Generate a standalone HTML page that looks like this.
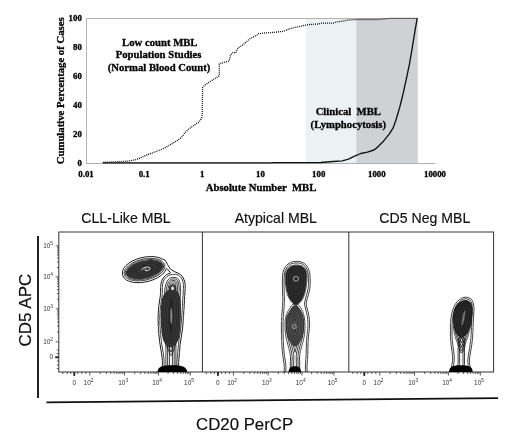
<!DOCTYPE html>
<html><head><meta charset="utf-8"><style>
html,body{margin:0;padding:0;background:#fff;}
svg{display:block;}
</style></head><body>
<svg width="520" height="442" viewBox="0 0 520 442">
<rect width="520" height="442" fill="#fff"/>
<rect x="305.8" y="18.5" width="50.5" height="144.8" fill="#ecf2f4"/>
<rect x="356.3" y="18.5" width="61.5" height="144.8" fill="#cfd2d4"/>
<path d="M86.5 163.5 V18.5 H417.8" fill="none" stroke="#b2b2b2" stroke-width="1"/>
<path d="M86 163.5 H435.5" fill="none" stroke="#b0b0b0" stroke-width="1"/>
<text x="81.8" y="165.5" text-anchor="end" font-family="'Liberation Serif', 'Times New Roman', serif" font-weight="bold" stroke="#000" stroke-width="0.3" font-size="8.8">0</text>
<text x="81.8" y="136.5" text-anchor="end" font-family="'Liberation Serif', 'Times New Roman', serif" font-weight="bold" stroke="#000" stroke-width="0.3" font-size="8.8">20</text>
<text x="81.8" y="107.6" text-anchor="end" font-family="'Liberation Serif', 'Times New Roman', serif" font-weight="bold" stroke="#000" stroke-width="0.3" font-size="8.8">40</text>
<text x="81.8" y="78.6" text-anchor="end" font-family="'Liberation Serif', 'Times New Roman', serif" font-weight="bold" stroke="#000" stroke-width="0.3" font-size="8.8">60</text>
<text x="81.8" y="49.7" text-anchor="end" font-family="'Liberation Serif', 'Times New Roman', serif" font-weight="bold" stroke="#000" stroke-width="0.3" font-size="8.8">80</text>
<text x="81.8" y="20.7" text-anchor="end" font-family="'Liberation Serif', 'Times New Roman', serif" font-weight="bold" stroke="#000" stroke-width="0.3" font-size="8.8">100</text>
<text x="86.0" y="177.3" text-anchor="middle" font-family="'Liberation Serif', 'Times New Roman', serif" font-weight="bold" stroke="#000" stroke-width="0.3" font-size="8.8">0.01</text>
<text x="144.2" y="177.3" text-anchor="middle" font-family="'Liberation Serif', 'Times New Roman', serif" font-weight="bold" stroke="#000" stroke-width="0.3" font-size="8.8">0.1</text>
<text x="202.3" y="177.3" text-anchor="middle" font-family="'Liberation Serif', 'Times New Roman', serif" font-weight="bold" stroke="#000" stroke-width="0.3" font-size="8.8">1</text>
<text x="260.5" y="177.3" text-anchor="middle" font-family="'Liberation Serif', 'Times New Roman', serif" font-weight="bold" stroke="#000" stroke-width="0.3" font-size="8.8">10</text>
<text x="318.7" y="177.3" text-anchor="middle" font-family="'Liberation Serif', 'Times New Roman', serif" font-weight="bold" stroke="#000" stroke-width="0.3" font-size="8.8">100</text>
<text x="376.8" y="177.3" text-anchor="middle" font-family="'Liberation Serif', 'Times New Roman', serif" font-weight="bold" stroke="#000" stroke-width="0.3" font-size="8.8">1000</text>
<text x="435.0" y="177.3" text-anchor="middle" font-family="'Liberation Serif', 'Times New Roman', serif" font-weight="bold" stroke="#000" stroke-width="0.3" font-size="8.8">10000</text>
<text x="261" y="191" text-anchor="middle" font-family="'Liberation Serif', 'Times New Roman', serif" font-weight="bold" stroke="#000" stroke-width="0.3" font-size="10.7" xml:space="preserve">Absolute Number  MBL</text>
<text transform="translate(64.3 90.8) rotate(-90)" text-anchor="middle" font-family="'Liberation Serif', 'Times New Roman', serif" font-weight="bold" stroke="#000" stroke-width="0.3" font-size="10.7">Cumulative Percentage of Cases</text>
<text x="159.8" y="45.6" text-anchor="middle" font-family="'Liberation Serif', 'Times New Roman', serif" font-weight="bold" stroke="#000" stroke-width="0.3" font-size="10.7">Low count MBL</text>
<text x="158.6" y="58.4" text-anchor="middle" font-family="'Liberation Serif', 'Times New Roman', serif" font-weight="bold" stroke="#000" stroke-width="0.3" font-size="10.7">Population Studies</text>
<text x="159" y="71.1" text-anchor="middle" font-family="'Liberation Serif', 'Times New Roman', serif" font-weight="bold" stroke="#000" stroke-width="0.3" font-size="10.7">(Normal Blood Count)</text>
<text x="348.3" y="115.2" text-anchor="middle" font-family="'Liberation Serif', 'Times New Roman', serif" font-weight="bold" stroke="#000" stroke-width="0.3" font-size="10.7" xml:space="preserve">Clinical  MBL</text>
<text x="348.3" y="127.7" text-anchor="middle" font-family="'Liberation Serif', 'Times New Roman', serif" font-weight="bold" stroke="#000" stroke-width="0.3" font-size="10.7">(Lymphocytosis)</text>
<polyline points="102.7,162.9 270.0,162.9 274.0,162.6 320.8,162.5 333.1,161.5 342.3,160.8 348.5,159.2 354.6,156.2 360.8,153.5 367.4,152.2 374.0,150.0 377.6,147.1 383.5,141.2 389.4,133.8 393.1,127.9 395.3,122.1 397.5,114.7 399.7,107.4 401.3,101.0 403.4,92.4 406.5,78.1 409.5,63.9 411.6,51.7 413.6,39.4 415.6,27.2 417.3,18.1" fill="none" stroke="#111" stroke-width="1.35" stroke-linejoin="round"/>
<polyline points="103.3,162.3 112.0,162.0 120.6,161.6 127.5,161.2 132.0,160.4 136.8,159.5 141.0,157.6 146.0,155.4 150.5,153.6 155.2,151.9 160.0,150.0 164.5,148.0 169.0,145.5 173.7,142.7 177.5,140.4 180.6,138.1 183.0,135.5 185.2,132.3 188.5,129.3 192.2,126.5 196.0,124.0 199.1,121.9 201.4,118.5 202.3,114.5 202.3,107.5 202.6,87.7 204.5,85.3 211.7,80.6 218.0,76.6 219.3,75.8 219.3,64.0 222.0,62.8 229.1,61.1 230.6,54.8 233.0,52.3 235.5,53.0 238.0,48.0 243.6,44.3 249.9,38.7 253.6,36.8 257.3,34.9 258.6,33.7 264.8,33.0 273.5,32.4 283.8,31.2 290.0,28.6 300.8,26.2 308.5,24.6 317.7,24.0 322.3,23.1 333.1,23.1 336.2,22.0 343.8,20.9 348.7,20.0 357.3,19.5 378.0,19.5 390.2,18.3 417.0,18.3" fill="none" stroke="#111" stroke-width="1.3" stroke-dasharray="1 1"/>
<rect x="58.8" y="232.0" width="434.8" height="140.0" fill="none" stroke="#333" stroke-width="1"/>
<line x1="202.4" y1="232.0" x2="202.4" y2="372.0" stroke="#333" stroke-width="1"/>
<line x1="348.8" y1="232.0" x2="348.8" y2="372.0" stroke="#333" stroke-width="1"/>
<text x="126.0" y="223.1" text-anchor="middle" font-family="'Liberation Sans', Arial, sans-serif" font-size="14.1" fill="#111" stroke="#111" stroke-width="0.15">CLL-Like MBL</text>
<text x="275.8" y="223.1" text-anchor="middle" font-family="'Liberation Sans', Arial, sans-serif" font-size="14.1" fill="#111" stroke="#111" stroke-width="0.15">Atypical MBL</text>
<text x="424.8" y="223.1" text-anchor="middle" font-family="'Liberation Sans', Arial, sans-serif" font-size="14.1" fill="#111" stroke="#111" stroke-width="0.15">CD5 Neg MBL</text>
<line x1="38" y1="236" x2="38" y2="398" stroke="#222" stroke-width="2"/>
<line x1="46.5" y1="402.4" x2="498" y2="398.2" stroke="#111" stroke-width="1.8"/>
<text transform="translate(31.2 310.1) rotate(-90)" text-anchor="middle" font-family="'Liberation Sans', Arial, sans-serif" font-size="17" fill="#111" stroke="#111" stroke-width="0.2">CD5 APC</text>
<text x="244.6" y="430" text-anchor="middle" font-family="'Liberation Sans', Arial, sans-serif" font-size="16.8" fill="#111" stroke="#111" stroke-width="0.2">CD20 PerCP</text>
<clipPath id="pc"><rect x="58.8" y="232.0" width="434.8" height="140.0"/></clipPath>
<g clip-path="url(#pc)">
<path d="M179.3 379.8 179.8 377.8 179.8 373.0 178.8 367.0 178.6 362.6 178.8 361.6 178.8 359.6 179.4 354.0 179.4 352.4 179.6 351.4 180.0 345.4 182.4 329.6 183.0 323.4 183.2 319.0 183.4 318.2 183.4 316.4 183.6 315.4 183.8 310.6 184.0 309.8 184.0 307.8 184.2 306.8 184.2 304.2 184.4 303.2 184.4 300.2 184.6 299.2 184.6 296.4 184.8 295.4 184.8 293.0 185.0 292.2 185.0 289.8 185.2 288.6 185.2 285.2 185.0 283.2 184.5 281.0 183.2 277.8 182.1 276.2 180.4 274.5 178.6 273.4 174.2 271.5 170.8 269.4 170.2 268.8 167.6 264.6 166.1 261.8 164.8 259.9 162.6 259.2 159.2 257.7 155.2 256.8 153.2 256.6 150.6 256.6 146.2 256.8 140.0 258.1 136.0 259.4 132.0 261.2 128.6 263.3 125.8 265.6 123.8 268.2 123.0 269.8 122.5 271.4 122.4 274.4 122.9 275.8 124.2 278.0 126.4 279.9 128.4 280.9 131.2 281.9 133.8 282.4 136.0 282.6 140.4 282.6 144.2 282.2 149.2 281.1 153.0 279.8 157.0 278.0 160.4 275.9 162.8 274.0 164.7 271.8 166.2 268.9 166.6 268.5 167.0 268.6 167.6 269.2 168.4 270.6 169.0 271.2 170.4 272.2 170.5 272.6 170.2 273.0 168.0 273.9 166.6 274.7 165.6 275.5 163.8 277.2 162.6 279.0 161.5 281.4 160.8 284.8 160.8 286.4 160.6 287.4 160.6 292.8 160.4 293.8 160.4 295.2 158.8 306.2 158.4 310.2 158.4 312.0 158.2 312.8 158.2 317.0 158.0 318.0 158.0 319.8 158.2 321.0 158.2 325.6 158.4 326.6 158.4 328.8 158.6 329.6 158.8 333.8 159.6 341.6 161.6 353.8 162.4 360.4 162.4 366.8 161.6 373.0 161.6 376.8 161.9 378.2 162.4 379.8" fill="none" stroke="#000" stroke-width="0.9"/>
<path d="M140.2 280.8 140.8 280.6 142.4 280.6 143.0 280.4 144.0 280.4 147.0 279.8 152.4 278.1 156.0 276.5 160.2 273.8 161.0 273.0 161.4 272.8 163.2 270.8 164.3 268.8 164.8 267.4 164.8 265.0 164.5 264.2 163.6 262.6 162.4 261.4 161.4 260.7 158.8 259.5 157.2 259.0 155.4 258.8 155.0 258.6 153.6 258.6 153.0 258.4 148.8 258.4 148.2 258.6 146.6 258.6 146.0 258.8 145.0 258.8 142.0 259.4 136.6 261.1 133.0 262.7 128.8 265.4 127.0 267.0 126.8 267.4 125.8 268.4 124.7 270.4 124.2 271.8 124.2 274.2 124.5 275.0 125.4 276.6 126.6 277.8 127.6 278.5 130.2 279.7 131.8 280.2 133.6 280.4 134.0 280.6 135.4 280.6 136.0 280.8 140.2 280.8Z M140.2 279.6 142.2 279.5 142.6 279.3 143.6 279.3 144.0 279.1 146.6 278.7 151.8 277.1 155.4 275.5 158.8 273.4 161.0 271.6 161.2 271.2 162.2 270.2 163.3 268.2 163.7 267.0 163.7 265.4 163.1 264.0 162.6 263.2 160.8 261.7 159.2 260.9 156.8 260.1 155.0 259.9 154.6 259.7 153.2 259.7 152.8 259.5 149.0 259.5 148.6 259.7 146.8 259.7 146.4 259.9 145.4 259.9 145.0 260.1 144.4 260.1 144.0 260.3 143.4 260.3 143.0 260.5 142.4 260.5 140.8 260.9 136.2 262.5 132.0 264.6 130.2 265.8 128.2 267.4 126.4 269.6 125.7 271.0 125.3 272.2 125.3 273.8 125.9 275.2 126.4 276.0 128.2 277.5 130.8 278.7 131.2 278.7 132.2 279.1 134.0 279.3 134.4 279.5 135.8 279.5 136.2 279.7 140.2 279.6Z M139.6 278.4 140.2 278.2 141.8 278.2 142.4 278.0 143.2 278.0 147.8 277.0 152.4 275.4 156.2 273.5 158.9 271.6 161.0 269.5 161.5 268.8 162.4 266.6 162.4 265.8 161.9 264.6 161.4 263.9 160.2 262.9 158.8 262.2 156.4 261.4 152.4 260.8 149.4 260.8 148.8 261.0 147.2 261.0 146.6 261.2 145.8 261.2 141.2 262.2 137.6 263.4 134.8 264.6 132.8 265.7 130.2 267.5 127.9 269.8 127.0 271.4 126.6 272.6 126.6 273.4 126.9 274.2 127.5 275.2 128.8 276.3 131.2 277.4 133.6 278.0 136.0 278.2 136.6 278.4 139.6 278.4Z M139.6 277.0 143.0 276.7 147.6 275.7 151.0 274.6 154.0 273.3 158.1 270.6 159.9 268.8 160.8 267.4 161.1 266.4 160.9 265.4 160.4 264.7 159.4 263.9 157.6 263.1 155.2 262.5 152.0 262.1 149.8 262.1 146.0 262.5 141.0 263.6 138.0 264.6 135.0 265.9 133.5 266.8 130.8 268.7 129.0 270.5 128.2 271.8 127.9 273.0 128.1 273.8 128.7 274.6 130.6 275.8 132.8 276.5 135.0 276.9 137.0 277.1 139.6 277.0Z M139.0 275.8 142.8 275.4 147.2 274.4 150.6 273.3 153.4 272.1 156.4 270.2 158.0 268.9 159.3 267.4 159.8 266.2 159.7 266.0 159.4 265.6 158.6 265.0 157.0 264.3 155.0 263.8 151.8 263.4 147.8 263.6 143.2 264.4 138.4 265.9 135.6 267.1 134.2 267.9 131.0 270.3 129.7 271.8 129.3 272.8 129.3 273.2 129.6 273.6 130.4 274.2 132.0 274.9 135.2 275.6 137.2 275.8 139.0 275.8Z M139.4 274.4 142.6 274.1 145.4 273.5 147.2 273.1 151.0 271.7 152.8 270.9 155.6 269.2 157.2 267.8 158.0 267.0 158.3 266.4 157.4 265.9 155.6 265.3 151.6 264.7 147.8 264.9 143.6 265.7 139.0 267.1 136.2 268.3 132.6 270.6 131.2 272.0 130.7 272.8 132.3 273.6 134.2 274.1 137.4 274.5 139.4 274.4Z M138.6 273.2 142.4 272.8 145.2 272.2 149.6 270.9 153.4 269.1 155.6 267.6 156.2 266.9 155.4 266.6 153.4 266.2 150.4 266.0 146.6 266.4 143.8 267.0 139.4 268.3 136.8 269.4 134.4 270.9 132.8 272.2 132.8 272.4 134.6 272.8 137.4 273.2 138.6 273.2Z M139.1 271.8 142.2 271.5 146.2 270.7 150.2 269.2 153.3 267.6 151.4 267.3 150.4 267.3 146.8 267.7 144.0 268.2 139.0 269.9 135.7 271.6 137.6 271.9 139.1 271.8Z M147.1 269.0 146.9 269.0 147.1 269.0Z M143.1 270.0 146.5 269.2 146.2 269.1 145.8 269.3 144.4 269.5 142.5 270.0 143.1 270.0Z M142.1 270.2 141.9 270.2 142.1 270.2Z" fill="none" stroke="#000" stroke-width="0.75"/>
<path d="M177.4 379.8 178.1 377.8 178.1 373.2 177.1 367.4 177.1 365.8 176.9 365.0 176.9 362.2 177.1 361.4 177.1 359.2 177.3 358.6 177.3 356.8 177.5 356.2 177.5 354.6 177.7 353.8 177.7 352.0 177.9 351.2 177.9 349.6 178.1 348.8 178.3 345.0 178.5 344.6 179.1 339.0 180.7 329.4 180.9 326.0 181.1 325.4 181.1 324.0 181.3 323.2 181.3 321.4 181.5 320.8 181.5 318.8 181.7 318.0 181.7 316.0 181.9 315.2 181.9 313.2 182.1 312.4 182.1 310.4 182.3 309.6 182.3 307.4 182.5 306.6 182.7 299.8 182.9 299.0 182.9 296.0 183.1 295.2 183.3 289.4 183.5 288.6 183.5 285.4 183.3 284.8 183.3 283.4 182.8 281.4 182.0 279.1 180.9 277.4 179.4 275.8 178.6 275.3 176.8 274.6 175.4 274.3 172.6 274.3 171.0 274.6 168.7 275.4 166.6 276.8 165.0 278.4 164.0 279.9 163.2 281.8 162.5 284.8 162.5 286.6 162.3 287.4 162.3 293.2 162.1 293.8 161.9 297.4 160.9 303.4 160.9 304.6 160.3 308.2 160.3 309.8 160.1 310.2 159.7 319.8 159.9 320.6 159.9 325.4 160.1 326.2 160.1 328.6 160.3 329.4 160.3 331.2 160.5 332.0 160.5 333.6 160.7 334.4 160.9 338.0 161.1 338.4 161.1 339.8 161.3 340.2 161.7 344.2 163.3 353.4 163.7 357.4 163.9 357.8 163.9 359.4 164.1 360.0 164.1 363.2 164.3 364.0 164.1 364.6 164.1 367.4 163.9 367.8 163.9 369.2 163.3 373.0 163.3 376.4 163.5 377.8 164.2 379.8" fill="none" stroke="#000" stroke-width="0.75"/>
<path d="M171.2 355.6 171.6 355.2 172.6 353.0 172.9 351.8 176.0 342.8 176.8 339.6 176.8 338.8 177.0 338.4 177.2 336.4 177.4 336.0 177.6 333.0 177.8 332.6 177.8 331.2 178.0 330.8 178.0 329.0 178.2 328.6 178.2 327.0 178.4 326.6 178.6 322.2 178.8 321.8 178.8 319.6 179.0 319.2 179.2 312.8 179.4 312.4 179.4 308.8 179.6 308.4 179.6 305.2 179.8 304.8 179.8 301.8 180.0 301.4 180.2 295.8 180.4 295.4 180.4 292.0 180.6 291.6 180.6 286.6 180.4 286.2 180.4 284.8 180.2 284.4 180.2 283.8 179.6 281.6 178.6 279.6 177.6 278.5 175.8 277.6 175.0 277.4 172.2 277.4 170.8 277.8 169.4 278.6 167.9 280.0 167.4 280.8 166.0 283.8 165.4 286.0 165.4 286.6 165.0 288.0 165.0 289.0 164.8 289.4 164.6 293.0 164.4 293.4 164.4 295.0 164.2 295.4 164.2 297.0 164.0 297.4 163.8 301.0 163.6 301.4 163.6 303.0 163.4 303.4 163.2 306.8 163.0 307.2 163.0 308.8 162.8 309.2 162.6 313.6 162.4 314.0 162.4 318.0 162.2 318.4 162.2 321.0 162.4 321.4 162.4 325.6 162.6 326.0 162.6 328.4 162.8 328.8 163.0 333.0 163.2 333.4 163.2 334.6 163.4 335.0 163.4 336.0 163.8 337.6 163.8 338.4 164.4 340.8 165.6 344.0 168.3 349.6 170.0 354.0 170.8 355.4 171.2 355.6Z M171.2 352.0 174.9 341.0 175.9 335.6 176.5 330.2 176.7 326.8 176.9 326.0 176.9 324.4 177.3 321.2 177.3 319.4 177.5 318.6 177.7 312.6 177.9 311.8 177.9 308.6 178.1 307.8 178.1 305.0 178.3 304.2 178.3 301.6 178.5 300.8 178.5 298.6 178.7 297.8 178.7 295.6 178.9 294.8 178.9 291.8 179.1 291.0 179.1 287.2 178.9 285.4 178.1 282.0 177.3 280.4 176.7 279.8 175.4 279.1 174.4 278.9 172.8 278.9 171.8 279.1 171.0 279.4 170.1 280.0 168.7 281.6 167.3 284.8 166.5 288.4 166.1 291.8 166.1 293.2 165.9 294.0 165.1 303.2 164.7 305.8 164.3 311.2 164.1 312.0 164.1 313.8 163.9 314.6 163.9 318.2 163.7 319.0 163.7 320.4 163.9 321.4 163.9 325.0 164.1 325.8 164.3 330.2 164.5 331.0 164.7 334.2 165.3 338.0 166.5 342.2 169.7 349.0 171.0 352.2 171.2 352.0Z M171.0 347.8 173.4 340.6 174.6 333.6 175.4 325.8 175.8 319.2 176.0 318.4 176.2 312.6 176.4 311.6 176.4 308.6 176.6 307.6 176.6 305.0 176.8 304.0 176.8 301.6 177.0 300.6 177.2 295.6 177.4 294.6 177.4 291.8 177.6 290.8 177.6 287.4 177.4 285.6 176.7 282.6 175.8 281.0 174.2 280.4 173.0 280.4 172.2 280.6 171.0 281.2 170.0 282.4 168.8 285.2 167.8 290.2 165.4 314.8 165.4 318.2 165.2 319.2 165.4 321.2 165.4 324.8 165.6 325.8 165.6 327.6 165.8 328.6 166.0 332.2 166.8 337.6 167.9 341.6 170.7 347.6 170.8 347.8 171.0 347.8Z M170.8 343.8 171.9 340.4 172.3 338.6 172.9 335.0 173.5 329.8 174.5 318.2 174.7 312.6 174.9 311.4 174.9 308.6 175.1 307.4 175.1 305.0 175.3 303.8 175.3 301.6 175.7 297.4 175.7 295.4 175.9 294.4 175.9 291.6 176.1 290.6 176.1 287.6 175.6 284.2 175.3 283.2 174.8 282.2 174.0 281.9 172.4 282.1 171.6 282.7 170.7 284.4 169.9 287.0 169.1 292.2 166.9 315.0 166.9 318.2 166.7 320.0 166.9 321.2 166.9 324.6 167.1 325.6 167.1 327.4 167.7 333.6 168.3 337.4 168.9 339.8 170.1 342.8 170.6 343.8 170.8 343.9 170.8 343.8Z M170.5 339.4 171.4 334.8 172.4 325.4 173.2 314.8 173.8 301.4 174.4 294.2 174.6 287.8 174.3 285.2 173.8 283.6 173.6 283.4 172.9 283.6 172.2 284.8 171.7 286.0 171.0 289.2 168.4 315.2 168.4 318.2 168.2 319.8 168.4 321.0 168.4 324.4 168.8 329.6 169.8 337.2 170.4 339.6 170.5 339.4Z M170.4 329.8 171.7 314.6 172.1 304.8 173.1 290.2 173.0 287.5 172.5 289.4 172.1 292.6 169.9 315.4 169.9 318.2 169.7 319.8 169.9 321.2 169.9 324.2 170.4 329.9 170.4 329.8Z  " fill="none" stroke="#000" stroke-width="0.75"/>
<path d="M175.9 379.8 175.9 340.8 175.7 340.6 175.7 340.2 175.3 339.4 174.7 338.6 173.6 337.7 172.8 337.3 172.4 337.3 172.2 337.1 169.8 337.1 167.8 338.1 167.1 338.8 166.3 340.2 166.3 340.6 166.1 340.8 166.1 341.8 165.9 342.0 165.9 379.8 M174.2 379.8 174.2 341.4 173.8 340.4 173.2 339.6 172.4 339.1 171.4 338.8 170.4 338.8 169.8 339.0 168.6 339.8 168.0 340.8 167.6 342.6 167.6 379.8 M172.4 379.8 172.4 341.8 172.0 341.0 171.2 340.6 170.4 340.7 170.0 341.0 169.7 341.6 169.4 343.0 169.4 379.8" fill="none" stroke="#000" stroke-width="0.75"/>
<path d="M140.0 279.0 143.4 278.7 148.0 277.7 151.6 276.5 154.4 275.3 156.6 274.1 158.4 272.9 160.5 271.2 161.7 269.8 162.7 268.0 163.1 266.8 163.1 265.6 162.1 263.6 160.6 262.3 159.4 261.7 158.0 261.1 155.6 260.5 153.0 260.3 152.6 260.1 149.2 260.1 148.6 260.3 147.0 260.3 146.6 260.5 145.6 260.5 141.0 261.5 137.4 262.7 134.2 264.1 132.4 265.1 129.8 266.9 128.6 267.9 127.3 269.4 126.3 271.2 125.9 272.4 125.9 273.6 126.5 275.0 127.6 276.3 128.4 276.9 130.0 277.7 132.4 278.5 134.2 278.7 134.6 278.9 136.0 278.9 136.4 279.1 140.0 279.0Z" fill="#252525"/>
<path d="M139.4 278.2 140.2 278.0 143.2 277.8 147.8 276.8 152.4 275.2 156.0 273.4 158.8 271.5 160.9 269.4 161.7 268.0 162.2 266.6 162.2 265.8 161.8 264.8 161.3 264.0 160.0 263.0 157.8 262.0 156.4 261.6 152.2 261.0 149.4 261.0 148.8 261.2 145.8 261.4 141.2 262.4 137.6 263.6 134.6 264.9 132.8 265.9 130.2 267.7 128.1 269.8 127.2 271.4 126.8 272.6 126.8 273.4 127.1 274.2 127.7 275.2 128.8 276.1 130.2 276.8 132.6 277.6 136.6 278.2 139.4 278.2Z M139.6 276.4 142.8 276.1 147.4 275.1 150.8 274.0 153.6 272.8 156.8 270.8 158.6 269.3 160.0 267.6 160.5 266.2 160.4 265.8 159.8 265.0 158.2 264.0 156.0 263.3 153.8 262.9 152.0 262.7 149.8 262.7 145.2 263.3 141.2 264.2 138.2 265.2 135.4 266.4 133.8 267.3 131.2 269.1 129.5 270.8 128.8 272.0 128.5 273.0 128.7 273.6 129.2 274.2 130.8 275.2 133.0 275.9 135.2 276.3 137.0 276.5 139.6 276.4Z M138.8 274.8 142.6 274.4 145.6 273.8 147.2 273.4 151.2 272.0 154.2 270.5 155.8 269.4 158.0 267.4 158.7 266.4 158.2 265.9 157.6 265.6 155.8 265.0 151.8 264.4 147.8 264.6 143.4 265.4 138.8 266.8 134.8 268.7 132.2 270.6 130.8 272.0 130.3 272.8 130.8 273.3 131.4 273.6 133.2 274.2 137.2 274.8 138.8 274.8Z M139.2 273.0 142.4 272.7 145.2 272.1 149.4 270.9 153.4 269.0 156.1 267.0 155.4 266.7 153.4 266.3 150.4 266.1 146.6 266.5 143.8 267.1 139.6 268.3 136.8 269.6 134.4 271.0 132.9 272.2 133.6 272.5 135.6 272.9 137.6 273.1 139.2 273.0Z M138.4 271.4 142.2 271.0 146.2 270.1 149.0 269.2 151.6 268.0 151.4 267.8 150.6 267.8 148.2 268.0 142.8 269.1 140.0 270.0 137.4 271.2 137.6 271.4 138.4 271.4Z" fill="none" stroke="#555" stroke-width="0.45"/>
<path d="M172.4 346.2 174.2 345.4 176.0 343.8 177.4 341.8 178.1 340.4 179.1 337.4 179.3 335.6 179.5 335.2 179.5 334.0 179.7 333.6 179.9 329.8 180.1 329.4 180.1 327.6 180.3 327.2 180.3 325.0 180.5 324.6 180.5 322.0 180.7 321.6 180.7 318.0 180.9 317.6 180.9 304.4 180.7 304.0 180.7 301.2 180.5 300.8 180.3 298.4 179.3 295.0 178.4 293.2 176.8 291.0 175.0 289.6 173.6 288.9 172.8 288.7 171.4 288.7 169.4 289.5 167.4 290.8 164.8 293.4 163.3 295.8 162.7 297.2 162.1 299.0 161.7 301.4 161.5 301.8 161.3 305.0 161.1 305.4 161.1 307.6 160.9 308.0 160.9 312.2 160.7 312.6 160.7 319.6 160.9 320.0 160.9 325.2 161.1 325.6 161.1 328.0 161.3 328.4 161.5 332.0 161.7 332.4 161.7 333.4 161.9 333.8 161.9 334.6 162.1 335.0 162.1 335.8 162.5 337.2 162.5 337.8 163.3 340.2 164.3 342.2 165.0 343.2 167.0 345.0 168.8 345.9 170.0 346.3 172.4 346.2Z" fill="#262626"/>
<path d="M171.6 344.8 173.2 344.2 174.7 343.0 176.3 340.6 177.4 337.8 178.0 334.8 178.2 331.8 178.4 331.2 178.4 329.6 178.8 326.8 178.8 324.8 179.0 324.2 179.0 321.8 179.2 321.0 179.2 317.8 179.4 317.0 179.4 305.0 179.2 304.2 179.2 301.8 179.0 300.0 178.4 297.2 177.3 294.4 175.6 292.0 173.8 290.7 172.2 290.2 170.4 290.7 168.2 292.1 166.1 294.2 164.8 296.4 164.2 297.6 163.6 299.4 163.0 302.2 162.8 305.2 162.6 305.8 162.6 307.8 162.4 308.4 162.4 312.2 162.2 313.2 162.2 319.0 162.4 320.0 162.4 324.6 162.6 325.4 162.6 327.6 162.8 328.2 162.8 329.8 163.0 330.4 163.2 333.0 164.0 337.4 164.4 338.8 165.6 341.4 167.0 343.1 168.0 343.8 169.2 344.4 170.4 344.8 171.6 344.8Z M171.4 343.0 172.2 342.7 173.1 342.0 173.9 341.0 174.9 339.4 175.8 336.6 176.4 332.8 176.8 327.2 177.0 326.4 177.2 321.8 177.4 320.8 177.4 317.8 177.6 316.8 177.6 305.2 177.4 304.2 177.4 302.0 177.0 299.2 176.1 296.0 175.2 294.5 173.7 292.8 173.0 292.3 172.2 292.1 171.2 292.3 169.2 293.7 167.5 295.4 165.9 298.2 165.4 299.8 164.8 302.6 164.2 308.8 164.2 312.4 164.0 313.4 164.0 318.8 164.2 319.8 164.2 324.4 164.4 325.4 164.4 327.2 164.8 331.2 165.8 337.0 166.5 339.2 167.1 340.4 167.8 341.3 169.0 342.3 169.8 342.7 170.8 343.0 171.4 343.0Z M171.4 341.0 171.9 340.6 173.2 338.8 173.8 337.2 174.2 335.4 175.2 326.2 175.6 320.4 175.6 317.6 175.8 316.4 175.8 305.6 175.4 300.6 174.8 298.0 174.4 296.6 173.4 295.0 172.2 293.9 170.4 295.0 169.0 296.4 168.0 298.0 167.2 300.0 166.4 304.4 166.0 309.2 166.0 312.6 165.8 313.8 165.8 318.4 166.0 319.8 166.0 324.0 166.2 327.0 166.6 331.0 167.6 336.6 168.2 338.6 169.2 340.2 170.6 341.0 171.0 341.2 171.4 341.0Z M170.9 339.0 171.5 338.0 172.1 336.6 172.6 334.0 173.4 325.8 173.8 320.2 173.8 317.6 174.0 316.2 174.0 305.8 173.8 302.4 173.1 298.4 172.7 297.2 172.0 296.2 171.6 296.4 170.2 297.9 169.3 299.4 168.9 300.8 168.4 303.0 168.0 306.8 167.8 309.4 167.8 312.6 167.6 314.0 167.8 323.8 168.4 330.8 169.4 336.4 170.1 338.4 170.6 339.0 170.9 339.0Z" fill="none" stroke="#555" stroke-width="0.45"/>
<path d="M141.5 270.3 C142.5 267.6 147.5 266.3 149.6 267.6 C151.2 268.8 148.6 271.2 145.6 270.6 C144.6 270.4 144.8 269.2 146.2 269" fill="none" stroke="#e6e6e6" stroke-width="1"/>
<ellipse cx="171.3" cy="316" rx="1.0" ry="8" fill="#8a8a8a"/>
<ellipse cx="172.6" cy="288.8" rx="3.6" ry="4.2" fill="#333"/>
<ellipse cx="172.6" cy="288.3" rx="1.3" ry="2" fill="#eee"/>
<path d="M157.4 372.5 C157.5 366.5 162 365.2 172 365.2 C182 365.2 187 366.5 187.3 372.5Z" fill="#000"/>
<path d="M308.2 379.8 308.2 377.6 307.0 370.0 307.0 365.0 307.4 361.4 307.4 359.6 307.6 358.6 307.6 355.6 307.8 354.6 308.0 342.6 308.2 341.6 308.4 337.0 309.4 328.6 309.6 323.2 309.4 322.0 309.4 319.4 308.8 315.2 308.1 312.0 306.6 306.6 306.2 304.2 306.2 303.0 307.0 299.4 308.5 294.4 309.3 291.2 309.8 288.6 310.2 284.2 310.2 278.2 310.0 277.0 310.0 275.0 309.5 272.2 308.6 269.2 307.9 267.6 306.8 266.0 305.4 264.4 303.3 262.8 300.6 261.7 298.8 261.4 293.6 261.5 291.8 261.9 290.4 262.5 288.0 264.0 286.2 265.8 285.4 266.8 283.9 269.6 283.1 272.2 282.6 275.0 282.6 277.0 282.4 278.2 282.4 287.8 282.6 289.0 282.6 296.0 282.8 297.2 282.8 301.8 282.6 302.8 282.6 305.8 282.4 306.8 282.4 308.4 281.8 314.6 281.8 316.4 281.6 317.4 281.6 320.4 281.4 321.4 281.4 333.4 281.6 334.6 281.6 340.4 281.8 341.6 281.8 345.0 282.0 346.2 282.0 348.0 282.8 355.4 284.2 365.0 284.2 366.8 284.4 367.8 284.2 370.8 283.2 377.0 283.0 379.8 M306.6 379.8 306.6 377.8 305.4 370.4 305.4 364.6 305.6 364.0 305.8 359.2 306.0 358.4 306.0 355.2 306.2 354.4 306.2 348.6 306.4 347.8 306.4 342.2 306.6 341.4 306.6 339.0 306.8 338.4 306.8 336.6 307.0 336.0 307.0 334.8 307.2 334.2 307.4 331.2 307.6 330.6 307.6 329.2 307.8 328.6 307.8 325.6 308.0 325.0 308.0 323.2 307.8 322.4 307.8 319.8 307.4 316.6 306.5 312.4 304.8 305.8 304.6 304.6 304.6 302.6 305.4 299.0 306.9 294.0 308.2 288.4 308.2 287.4 308.4 286.6 308.4 285.0 308.6 284.2 308.6 278.2 308.4 277.4 308.4 275.2 307.7 271.6 307.1 269.6 305.7 267.2 304.4 265.6 302.5 264.2 300.2 263.3 298.8 263.0 293.8 263.1 291.0 263.9 289.0 265.2 287.4 266.8 286.7 267.8 285.3 270.4 284.7 272.6 284.2 275.2 284.2 277.4 284.0 278.2 284.0 287.8 284.2 288.6 284.2 296.0 284.4 296.8 284.4 302.2 284.2 302.8 284.2 306.2 284.0 306.8 284.0 308.8 283.8 309.4 283.8 311.4 283.6 312.0 283.6 314.0 283.4 314.8 283.4 316.8 283.2 317.6 283.2 320.8 283.0 321.6 283.0 333.4 283.2 334.2 283.2 340.4 283.4 341.2 283.4 345.0 283.6 345.8 283.6 348.0 283.8 348.6 283.8 350.2 284.0 350.8 284.4 355.2 285.8 364.6 285.8 366.6 286.0 367.4 285.8 371.2 284.8 377.2 284.6 379.8" fill="none" stroke="#000" stroke-width="0.75"/>
<path d="M297.1 304.6 298.8 303.7 300.5 302.0 300.5 301.8 301.1 301.2 301.1 301.0 302.3 299.4 304.1 295.8 304.1 295.4 304.3 295.2 304.3 294.8 304.5 294.6 304.5 294.2 304.7 294.0 304.9 293.0 305.1 292.8 305.3 291.4 305.5 291.2 305.5 290.4 305.7 290.2 305.7 289.4 305.9 289.2 305.9 288.0 306.1 287.8 306.1 286.8 306.3 286.6 306.3 285.4 306.5 285.2 306.5 283.6 306.7 283.4 306.7 281.6 306.9 281.4 306.9 278.0 307.1 277.8 307.1 275.4 306.9 275.2 306.9 273.4 306.7 273.2 306.7 272.4 306.5 272.2 306.3 271.0 305.3 269.0 304.6 268.1 303.2 266.7 301.0 265.5 300.6 265.5 300.4 265.3 299.6 265.3 299.4 265.1 297.0 265.1 296.6 264.9 296.4 265.1 293.8 265.1 293.6 265.3 292.8 265.3 292.6 265.5 291.6 265.7 289.4 266.9 287.5 268.8 286.9 270.0 286.5 270.4 286.5 270.8 286.1 271.4 285.9 272.6 285.7 272.8 285.7 273.6 285.5 273.8 285.5 275.2 285.3 275.4 285.3 281.8 285.5 282.0 285.5 284.6 285.7 284.8 285.7 286.4 285.9 286.6 285.9 287.8 286.1 288.0 286.1 289.2 286.3 289.4 286.5 291.2 286.7 291.4 286.7 292.0 286.9 292.2 286.9 292.8 287.1 293.0 287.1 293.6 287.3 293.8 287.5 294.8 288.7 297.2 288.7 297.6 289.1 298.0 289.7 299.4 290.9 301.0 290.9 301.2 291.5 301.8 291.5 302.0 293.2 303.7 295.0 304.7 297.1 304.6Z M296.7 303.4 298.2 302.6 299.4 301.4 301.2 298.8 302.9 295.2 303.8 292.4 304.7 288.6 304.7 287.8 305.3 284.6 305.5 281.4 305.7 280.8 305.7 278.0 305.9 277.2 305.9 276.0 305.7 275.4 305.7 274.0 305.0 271.4 303.8 269.0 302.6 267.8 300.6 266.8 298.8 266.3 294.4 266.3 292.0 267.0 290.0 268.0 288.6 269.4 287.7 271.0 286.9 273.4 286.5 276.0 286.5 281.2 286.7 281.8 286.7 284.0 286.9 284.6 286.9 285.8 287.3 288.6 288.4 293.2 289.2 295.6 290.8 298.8 292.8 301.6 293.8 302.6 295.2 303.4 295.6 303.5 296.7 303.4Z M296.2 302.2 297.4 301.5 298.3 300.6 300.1 298.0 301.6 295.0 302.6 292.0 303.4 288.4 304.4 280.6 304.4 277.8 304.6 276.2 304.4 275.4 304.4 274.2 303.8 271.8 302.7 269.8 301.9 269.0 300.2 268.0 298.6 267.6 294.6 267.6 293.6 267.8 292.4 268.2 290.7 269.2 289.7 270.2 288.6 272.2 288.2 273.6 287.8 276.2 287.8 281.0 288.0 281.8 288.0 283.8 288.6 288.4 289.6 292.8 291.1 296.4 291.9 298.0 293.1 299.8 294.6 301.5 295.8 302.2 296.2 302.2Z M296.1 300.8 297.1 300.0 298.1 298.6 299.0 297.3 300.4 294.4 301.3 291.6 302.1 288.2 303.1 280.4 303.1 277.8 303.3 276.4 303.1 274.4 302.6 272.4 301.9 271.0 301.1 270.0 299.6 269.2 298.4 268.9 294.8 268.9 293.0 269.4 291.5 270.2 290.5 271.4 289.8 272.8 289.1 276.4 289.1 280.6 289.3 281.8 289.3 283.6 289.9 288.2 290.9 292.6 291.6 294.5 293.1 297.4 294.8 299.9 295.3 300.4 296.1 300.8Z M296.0 299.2 297.9 296.6 299.2 294.0 300.0 291.6 300.8 288.0 301.8 280.2 301.8 277.8 302.0 276.6 301.8 274.6 301.4 272.8 300.9 271.8 300.2 271.0 299.2 270.4 298.2 270.2 295.0 270.2 293.4 270.6 292.4 271.2 291.6 272.1 291.0 273.2 290.4 276.6 290.4 280.4 290.6 281.6 290.6 283.4 291.2 288.0 291.7 290.6 292.4 293.0 293.4 295.2 294.5 297.2 296.0 299.2Z M296.1 297.0 296.7 296.0 297.9 293.6 298.8 291.0 299.9 285.2 300.5 280.0 300.7 276.6 300.2 273.4 299.4 272.0 298.8 271.7 298.0 271.5 295.2 271.5 294.0 271.8 293.2 272.2 292.7 272.8 292.2 273.8 291.7 276.8 291.7 280.4 291.9 281.6 291.9 283.2 292.9 289.6 293.4 292.0 294.1 293.6 295.3 296.0 296.0 297.1 296.1 297.0Z M296.1 294.4 296.8 293.0 297.9 289.4 298.6 285.0 299.2 279.8 299.3 276.6 299.1 274.2 298.6 273.1 297.8 272.8 295.4 272.8 294.0 273.2 293.4 274.2 293.0 277.0 293.0 280.2 293.2 283.0 293.8 287.6 294.7 291.6 296.0 294.6 296.1 294.4Z M296.0 291.2 296.9 287.4 297.9 279.6 298.0 276.6 297.9 275.0 297.6 274.1 295.6 274.1 294.8 274.3 294.3 277.2 294.3 280.0 294.7 284.8 295.4 289.2 296.0 291.2Z M296.0 284.4 296.6 279.6 296.6 275.4 296.0 275.4 295.8 275.6 295.6 277.2 295.6 280.0 296.0 284.5 296.0 284.4Z " fill="none" stroke="#000" stroke-width="0.75"/>
<path d="M295.7 375.8 296.0 375.7 297.1 374.6 297.1 374.4 297.9 373.4 298.5 372.2 298.5 371.8 298.9 371.2 299.1 370.2 299.3 370.0 299.5 368.2 299.7 368.0 299.7 361.2 299.5 361.0 299.5 356.4 299.7 356.2 299.7 354.6 299.9 354.4 299.9 353.4 300.1 353.2 300.3 351.4 300.5 351.2 300.5 350.6 300.7 350.4 300.7 349.8 300.9 349.6 300.9 349.0 301.1 348.8 301.3 347.4 301.7 346.6 301.9 345.2 302.3 344.4 302.3 343.8 302.5 343.6 302.7 342.2 303.1 341.4 303.3 339.8 303.5 339.6 303.5 339.0 303.7 338.8 303.7 338.0 303.9 337.8 303.9 337.0 304.1 336.8 304.1 336.0 304.3 335.8 304.3 334.8 304.5 334.6 304.5 333.2 304.7 333.0 304.7 331.2 304.9 331.0 304.9 326.8 305.1 326.6 305.1 326.2 304.9 326.0 304.9 321.6 304.7 321.4 304.5 318.2 304.3 318.0 304.3 317.2 304.1 317.0 304.1 316.2 303.9 316.0 303.7 314.4 303.3 313.6 303.3 313.0 302.7 311.8 302.7 311.4 301.3 308.6 300.9 308.2 300.5 307.4 299.9 306.8 299.9 306.6 299.1 305.8 299.1 305.6 298.0 304.5 297.8 304.5 296.6 303.5 295.4 303.3 295.2 303.1 295.0 303.3 294.2 303.3 293.8 303.5 293.4 303.9 293.2 303.9 291.9 305.2 291.9 305.4 290.7 306.8 290.1 308.0 288.9 309.6 288.5 310.6 288.1 311.0 286.7 313.8 286.7 314.2 286.3 314.8 286.1 316.0 285.7 316.8 285.7 317.6 285.5 317.8 285.5 318.6 285.3 318.8 285.3 320.2 285.1 320.4 285.1 324.0 284.9 324.2 284.9 325.8 285.1 326.0 285.1 330.6 285.3 330.8 285.3 332.8 285.5 333.0 285.5 334.4 285.7 334.6 285.7 335.8 285.9 336.0 285.9 336.8 286.1 337.0 286.1 338.0 286.3 338.2 286.3 338.8 286.5 339.0 286.5 339.8 286.7 340.0 286.7 340.6 286.9 340.8 287.1 342.2 287.5 343.0 287.7 344.4 288.1 345.2 288.3 346.6 288.7 347.4 288.7 348.0 288.9 348.2 288.9 348.8 289.1 349.0 289.1 349.6 289.3 349.8 289.5 351.2 289.7 351.4 289.7 352.2 289.9 352.4 290.1 354.4 290.3 354.6 290.3 356.2 290.5 356.4 290.5 361.0 290.3 361.2 290.3 368.0 290.5 368.2 290.5 369.0 290.7 369.2 290.7 370.0 290.9 370.2 291.1 371.2 291.5 371.8 291.5 372.2 292.1 373.4 292.9 374.4 292.9 374.6 294.0 375.7 294.4 375.9 295.7 375.8Z M295.2 374.2 296.4 372.6 296.9 371.6 297.7 369.4 298.1 367.4 298.1 362.0 297.9 361.0 297.9 356.4 298.1 355.6 298.1 354.4 298.7 351.0 301.7 340.0 302.7 335.2 303.1 332.4 303.1 331.0 303.3 330.4 303.3 326.4 303.3 322.2 303.1 321.6 302.9 318.8 302.3 315.8 301.5 313.0 299.8 309.4 298.4 307.4 297.2 306.0 295.8 305.1 295.2 304.9 294.8 304.9 294.0 305.4 292.2 307.6 290.4 310.4 288.3 314.4 287.3 317.4 286.9 319.4 286.9 320.4 286.7 321.0 286.7 324.2 286.5 325.0 286.7 326.0 286.7 330.0 286.9 330.6 286.9 332.2 287.7 337.4 291.3 351.0 291.9 354.4 291.9 355.6 292.1 356.4 292.1 361.0 291.9 362.0 291.9 367.4 292.3 369.4 293.2 371.8 294.4 373.8 294.8 374.2 295.2 374.2Z M295.1 371.4 295.9 369.4 296.4 367.0 296.2 356.4 296.4 354.2 297.1 350.6 299.8 340.4 301.0 334.8 301.6 330.0 301.6 326.4 301.6 322.6 301.2 319.2 300.6 316.2 299.9 313.6 298.0 309.8 296.2 307.4 295.2 306.7 293.6 308.6 291.8 311.4 289.5 316.0 288.6 319.8 288.2 325.0 288.4 325.8 288.4 329.6 288.6 330.4 288.6 331.8 289.4 337.0 292.9 350.6 293.6 354.2 293.8 356.4 293.6 367.0 294.3 370.0 295.0 371.6 295.1 371.4Z M295.0 352.2 298.7 337.6 299.5 333.4 299.9 329.6 299.9 322.8 299.5 319.4 298.9 316.4 298.3 314.2 297.8 313.0 296.9 311.2 295.4 309.2 294.7 310.0 293.2 312.4 291.1 316.6 290.3 320.0 290.1 321.6 290.0 325.0 290.3 331.6 291.1 336.8 294.6 350.2 295.0 352.4 295.0 352.2Z M295.0 345.0 297.0 337.2 297.8 333.2 298.2 329.4 298.2 323.2 297.8 319.6 296.7 314.8 295.4 312.2 293.9 314.6 292.7 317.2 292.0 320.2 291.8 321.8 291.7 325.0 291.8 329.2 292.4 334.4 293.3 338.8 295.0 345.1 295.0 345.0Z M295.0 338.4 295.9 334.0 296.5 329.2 296.5 323.2 296.1 319.8 295.2 315.8 294.3 317.8 293.8 319.8 293.5 322.0 293.4 325.0 293.5 329.0 293.7 331.2 294.5 336.2 295.0 338.5 295.0 338.4Z  " fill="none" stroke="#000" stroke-width="0.75"/>
<path d="M296.6 304.2 298.6 303.2 300.0 301.8 301.8 299.2 303.6 295.6 304.6 292.6 305.4 288.8 305.4 288.0 306.0 284.8 306.0 283.6 306.2 283.0 306.2 281.6 306.4 281.0 306.4 278.0 306.6 277.4 306.6 275.8 306.4 275.2 306.4 273.8 305.8 271.2 304.4 268.6 303.0 267.2 300.8 266.0 299.0 265.6 294.2 265.6 291.8 266.2 289.6 267.4 288.0 269.0 287.0 270.6 286.2 273.0 286.0 274.2 286.0 275.2 285.8 275.8 285.8 281.4 286.0 282.0 286.0 284.2 286.2 284.8 286.2 286.0 287.0 290.8 288.0 294.6 289.2 297.4 290.2 299.2 292.0 301.8 293.4 303.2 294.0 303.6 295.2 304.2 296.6 304.2Z" fill="#1c1c1c"/>
<path d="M296.2 302.6 297.7 301.8 298.6 300.9 300.4 298.2 302.0 295.0 303.0 292.0 303.8 288.4 304.8 280.6 304.8 278.0 305.0 276.2 304.8 275.4 304.8 274.2 304.1 271.6 303.0 269.5 302.1 268.6 300.2 267.6 298.6 267.2 294.6 267.2 292.4 267.8 290.5 268.8 289.4 269.9 288.2 272.1 287.6 274.6 287.4 276.2 287.4 281.0 287.6 281.8 287.6 283.8 287.8 284.6 287.8 285.6 288.6 290.4 289.4 293.4 290.7 296.6 291.6 298.2 292.8 300.1 294.3 301.8 295.6 302.5 296.2 302.6Z M296.2 300.6 297.1 299.8 298.9 297.2 300.5 293.8 301.2 291.6 302.0 288.2 303.0 280.2 303.0 277.8 303.2 276.6 303.0 274.4 302.5 272.4 301.9 271.2 301.0 270.1 299.6 269.3 298.2 269.0 294.8 269.0 293.0 269.5 291.6 270.3 290.9 271.0 289.9 272.8 289.4 274.8 289.2 276.6 289.2 280.6 289.4 281.8 289.4 283.6 290.0 288.2 291.0 292.4 291.7 294.4 293.1 297.2 295.0 299.9 296.0 300.7 296.2 300.6Z M296.1 298.2 297.3 296.4 298.0 295.0 298.6 293.8 299.5 291.2 300.6 285.2 301.2 280.0 301.2 277.8 301.4 276.6 300.9 273.2 300.0 271.6 299.0 271.0 298.0 270.8 295.2 270.8 294.2 271.0 292.6 271.8 292.1 272.4 291.5 273.6 291.0 276.8 291.0 280.4 291.2 281.6 291.2 283.2 291.8 287.8 292.3 290.4 292.8 292.2 293.4 293.8 294.7 296.4 296.1 298.2Z M296.0 295.0 297.0 293.0 298.1 289.4 298.8 285.0 299.4 279.8 299.5 276.6 299.3 274.2 298.8 273.0 298.4 272.7 297.8 272.6 295.4 272.6 294.6 272.7 293.8 273.2 293.2 274.2 292.8 277.0 292.8 280.2 293.0 283.0 293.6 287.6 294.5 291.6 296.0 295.0Z M296.0 290.2 297.0 284.8 297.6 279.6 297.7 276.6 297.4 274.4 295.6 274.4 295.0 274.6 294.6 277.2 294.8 282.8 295.4 287.4 296.0 290.2Z " fill="none" stroke="#555" stroke-width="0.45"/>
<path d="M295.6 346.6 296.2 346.3 297.7 344.8 298.9 343.2 300.8 340.2 302.2 337.4 303.4 333.6 303.6 331.8 303.8 331.4 303.8 330.4 304.0 330.0 304.0 328.2 304.2 327.8 304.2 321.4 304.0 321.0 304.0 319.6 303.8 319.2 303.8 318.4 303.6 318.0 303.4 316.6 302.4 313.8 301.4 311.8 299.1 308.4 297.2 306.3 295.6 305.4 294.6 305.4 293.6 305.9 292.1 307.6 287.8 314.0 286.8 316.0 286.2 317.8 286.0 319.8 285.8 320.2 285.8 327.4 286.0 327.8 286.0 329.8 286.2 330.2 286.2 331.4 286.8 333.8 286.8 334.4 287.8 337.4 289.2 340.2 292.3 344.8 294.0 346.4 294.4 346.6 295.6 346.6Z" fill="#2a2a2a"/>
<path d="M295.5 345.0 296.5 344.0 297.7 342.4 299.6 339.4 300.8 337.0 301.8 334.0 302.4 331.0 302.6 328.0 302.8 327.4 302.8 322.0 302.6 321.2 302.6 320.0 302.0 317.0 301.0 314.2 300.3 312.8 298.5 310.0 297.1 308.2 296.4 307.5 295.4 306.9 295.0 306.8 294.4 307.1 293.3 308.4 289.1 314.6 288.2 316.4 287.6 318.2 287.2 320.6 287.2 326.8 287.8 332.2 288.2 334.0 289.3 337.2 291.0 340.4 293.5 344.0 294.8 345.2 295.2 345.2 295.5 345.0Z M295.1 343.2 297.7 339.6 299.4 336.4 300.5 332.8 301.1 329.2 301.1 328.0 301.3 327.0 301.3 322.2 300.9 319.2 300.4 317.0 298.9 313.4 296.7 310.2 295.8 309.1 295.2 308.6 294.5 309.4 290.3 315.6 289.2 318.2 288.7 321.0 288.7 326.6 288.9 327.6 288.9 329.0 289.3 331.8 289.8 334.0 290.6 336.4 291.7 338.6 294.7 343.0 295.0 343.3 295.1 343.2Z M295.1 340.8 297.0 337.8 298.2 335.4 298.9 333.2 299.2 331.6 299.8 326.8 299.8 322.4 299.1 317.8 297.6 314.2 295.4 311.0 295.2 311.1 291.6 316.4 290.6 318.8 290.2 321.2 290.2 326.4 290.6 330.4 291.2 333.4 292.1 336.0 293.0 337.8 294.4 340.1 295.1 340.8Z M295.0 338.2 296.6 335.4 297.4 333.0 297.9 330.2 298.3 326.6 298.3 322.6 297.7 318.6 296.8 315.8 295.4 313.6 293.2 316.6 292.4 318.0 292.0 319.2 291.7 321.4 291.7 326.2 292.3 331.4 292.7 333.2 293.4 335.4 295.0 338.2Z M295.1 335.0 296.1 332.0 296.8 326.4 296.8 322.8 296.4 319.8 295.8 317.4 295.4 316.5 295.2 316.4 293.8 318.6 293.5 319.6 293.2 321.6 293.2 326.0 293.6 330.0 294.2 332.8 295.0 335.2 295.1 335.0Z M295.0 328.8 295.3 326.2 295.3 323.0 295.0 320.6 294.7 321.8 294.7 325.8 295.0 328.8Z " fill="none" stroke="#777" stroke-width="0.55"/>
<circle cx="296" cy="278.8" r="2.4" fill="none" stroke="#bbb" stroke-width="0.9"/>
<circle cx="294.3" cy="326.7" r="2.0" fill="none" stroke="#aaa" stroke-width="0.9"/>
<path d="M288.5 372.5 C288.7 367.5 291 366.2 295 366.2 C299 366.2 301 367.5 301.2 372.5Z" fill="#000"/>
<path d="M471.8 379.8 471.8 375.8 471.1 371.6 469.8 365.2 469.4 362.0 469.4 360.0 469.8 356.4 471.8 344.6 472.6 337.4 472.8 332.4 473.0 331.4 473.0 327.6 473.2 326.6 473.2 322.2 473.4 321.2 473.4 318.2 473.8 314.2 473.8 311.8 474.0 311.0 474.0 307.8 473.5 304.0 472.8 301.6 472.3 300.6 471.4 299.4 470.0 298.4 468.0 297.5 466.2 297.2 465.0 297.2 462.8 297.7 460.8 298.7 458.8 300.1 457.0 301.9 455.0 304.8 453.6 307.6 452.1 312.0 451.3 316.0 450.8 318.8 450.6 322.8 450.4 323.6 450.4 336.4 451.2 345.6 452.6 355.4 452.6 360.4 452.0 364.6 450.5 371.8 450.0 374.6 450.0 379.8 M470.1 379.8 470.2 376.0 469.6 372.0 468.2 365.4 468.0 362.8 467.8 362.2 467.8 359.6 468.0 359.0 468.2 356.2 469.8 347.2 470.4 341.8 470.6 341.2 470.6 340.0 470.8 339.4 470.8 338.0 471.0 337.4 471.0 335.4 471.2 334.6 471.2 332.0 471.4 331.2 471.4 327.2 471.6 326.4 471.6 321.8 471.8 321.0 471.8 317.8 472.0 317.2 472.0 314.8 472.2 314.0 472.2 311.6 472.4 310.8 472.4 308.0 472.2 307.2 472.2 305.8 472.0 304.4 471.0 301.5 470.2 300.5 469.2 299.8 467.6 299.1 466.2 298.8 465.2 298.8 463.2 299.3 461.4 300.2 459.8 301.3 458.2 302.9 456.4 305.6 454.7 309.2 453.6 312.6 452.8 316.4 452.4 319.0 452.2 323.0 452.0 323.8 452.0 336.4 452.2 337.2 452.2 339.4 452.4 340.2 452.4 341.6 452.8 344.2 452.8 345.4 453.8 351.6 454.0 354.6 454.2 355.2 454.2 360.8 453.6 364.8 452.0 372.2 451.6 374.8 451.6 379.8" fill="none" stroke="#000" stroke-width="0.75"/>
<path d="M461.9 352.8 462.5 352.2 463.1 351.0 463.1 350.6 463.5 350.0 463.5 349.6 463.7 349.4 464.1 347.8 464.3 347.6 464.3 347.0 464.5 346.8 464.9 345.2 465.1 345.0 465.1 344.4 465.3 344.2 465.3 343.8 465.5 343.6 465.9 342.0 466.1 341.8 466.1 341.4 466.5 340.6 466.9 339.0 467.3 338.4 467.3 338.0 467.5 337.8 467.5 337.4 467.9 336.6 467.9 336.0 468.3 335.2 468.3 334.8 468.5 334.6 468.5 334.2 468.7 334.0 468.9 332.6 469.3 331.8 469.3 331.2 469.5 331.0 469.5 330.4 469.7 330.2 469.7 329.6 469.9 329.4 469.9 328.6 470.1 328.4 470.1 327.6 470.3 327.4 470.3 326.6 470.5 326.4 470.5 325.6 470.7 325.4 470.9 323.0 471.1 322.8 471.1 321.4 471.3 321.2 471.3 319.6 471.5 319.4 471.5 317.6 471.7 317.4 471.7 315.0 471.9 314.8 471.9 311.2 472.1 311.0 472.1 310.6 471.9 310.4 471.9 307.8 471.7 307.6 471.5 305.6 471.1 304.8 471.1 304.4 470.1 302.6 469.0 301.5 467.4 300.7 466.8 300.7 466.6 300.5 464.0 300.5 463.8 300.7 463.2 300.7 463.0 300.9 462.0 301.1 460.8 301.7 459.8 302.5 459.6 302.5 458.6 303.5 458.4 303.5 458.1 303.8 458.1 304.0 457.1 305.0 457.1 305.2 456.3 306.2 456.1 306.8 455.7 307.2 455.5 308.0 455.1 308.6 455.1 309.0 454.7 309.6 454.7 310.2 454.5 310.4 454.5 310.8 454.3 311.0 454.3 311.8 454.1 312.0 454.1 312.8 453.9 313.0 453.9 314.2 453.7 314.4 453.7 316.4 453.5 316.6 453.5 320.2 453.3 320.4 453.3 325.2 453.5 325.4 453.5 328.0 453.7 328.2 453.7 329.8 453.9 330.0 453.9 331.2 454.1 331.4 454.1 332.4 454.3 332.6 454.5 334.4 454.7 334.6 454.7 335.2 455.1 336.0 455.1 336.6 455.3 336.8 455.3 337.2 455.5 337.4 455.5 337.8 455.7 338.0 455.9 339.0 456.1 339.2 456.1 339.6 456.3 339.8 456.3 340.2 456.7 341.0 456.7 341.4 456.9 341.6 456.9 342.0 457.3 342.6 457.3 343.0 457.5 343.2 457.5 343.6 457.9 344.4 457.9 345.0 458.3 345.8 458.3 346.2 458.5 346.4 458.5 346.8 458.9 347.6 458.9 348.2 459.1 348.4 459.1 348.8 459.5 349.6 459.5 350.0 459.9 350.6 459.9 351.0 460.5 352.2 461.2 352.9 461.9 352.8Z M461.6 351.0 462.3 349.4 464.0 344.0 466.6 336.2 468.1 331.2 469.5 324.8 470.1 320.6 470.1 319.4 470.3 318.8 470.3 317.4 470.5 316.8 470.8 310.8 470.7 308.4 470.2 306.0 469.8 304.6 468.8 303.0 468.4 302.6 467.2 302.0 466.0 301.7 464.6 301.7 461.8 302.6 460.2 303.6 458.2 305.6 456.8 307.8 456.0 310.0 455.1 313.6 454.9 316.6 454.7 317.2 454.5 324.6 454.7 325.2 454.7 327.4 454.9 328.0 454.9 329.2 455.7 333.8 456.4 336.2 459.0 344.0 460.8 349.6 461.4 351.1 461.6 351.0Z M461.6 347.4 462.7 343.6 465.4 335.8 467.4 328.6 468.4 323.4 469.2 316.6 469.2 314.8 469.4 314.0 469.4 308.6 469.0 306.4 468.6 305.2 467.8 303.9 466.6 303.2 465.8 303.0 464.8 303.0 462.4 303.8 460.9 304.8 459.4 306.3 457.9 308.6 457.2 310.4 456.8 311.8 456.2 315.2 456.2 316.6 456.0 317.4 456.0 320.4 455.8 321.2 455.8 324.4 456.0 325.2 456.0 327.2 456.2 328.0 456.2 329.0 456.6 331.6 457.6 335.8 460.3 343.6 461.4 347.4 461.6 347.4Z M461.6 342.8 464.0 335.8 465.9 329.0 467.1 323.2 467.7 318.4 468.1 313.6 468.1 308.8 467.7 306.6 467.2 305.3 466.8 304.8 465.6 304.3 464.4 304.5 462.9 305.0 461.7 305.8 460.4 307.1 459.1 309.2 458.5 310.8 457.5 315.4 457.3 317.8 457.3 320.4 457.1 321.6 457.1 324.0 457.7 330.2 458.3 333.4 459.0 335.8 461.4 342.9 461.6 342.8Z M461.6 338.8 462.8 335.4 464.7 328.8 465.6 324.2 466.2 320.0 466.8 313.6 466.8 309.0 466.2 306.2 465.9 305.8 465.4 305.6 463.6 306.1 462.4 307.0 461.1 308.4 460.3 309.8 459.7 311.2 458.8 315.6 458.6 317.8 458.6 320.6 458.4 321.8 458.4 324.0 458.8 328.6 459.7 333.8 461.4 339.0 461.6 338.8Z M461.6 334.8 463.5 327.8 464.3 324.0 464.9 319.8 465.5 313.4 465.5 309.2 465.0 307.0 464.2 307.3 463.2 308.0 462.4 308.8 461.5 310.2 460.7 312.6 460.1 315.8 459.9 318.0 459.9 320.6 459.7 321.8 459.9 326.6 460.9 332.8 461.4 334.8 461.6 334.8Z M461.6 329.6 462.2 328.0 462.9 324.6 463.6 319.6 464.2 313.2 464.2 309.4 464.0 309.0 463.3 309.8 462.4 311.4 461.9 313.0 461.4 316.0 461.0 323.6 461.2 326.4 461.6 329.6Z   " fill="none" stroke="#000" stroke-width="0.75"/>
<path d="M464.3 379.8 464.3 364.2 464.5 364.0 464.5 348.2 464.7 348.0 464.7 339.4 463.9 337.8 462.6 336.9 460.4 336.9 460.0 337.1 459.1 337.8 458.3 339.4 458.3 347.8 458.1 348.0 458.1 363.8 457.9 364.0 457.9 379.8 M462.8 379.8 462.8 364.2 463.0 363.4 463.0 348.2 463.2 347.4 463.2 340.0 462.6 338.8 462.0 338.4 460.8 338.5 460.1 339.2 459.8 340.0 459.8 347.8 459.6 348.6 459.6 363.8 459.4 364.6 459.4 379.8" fill="none" stroke="#000" stroke-width="0.75"/>
<path d="M462.4 337.2 463.8 336.6 464.6 336.1 466.5 334.2 468.0 332.0 469.0 330.2 470.4 326.4 471.2 323.2 471.2 322.4 471.6 320.8 471.6 319.8 471.8 319.4 471.8 318.2 472.0 317.8 472.0 316.2 472.2 315.8 472.2 313.8 472.4 313.4 472.4 308.6 472.2 308.2 472.2 307.2 471.4 304.4 470.0 302.2 469.0 301.4 467.0 300.6 466.0 300.6 465.6 300.4 465.0 300.6 464.0 300.6 462.0 301.2 460.0 302.2 458.8 303.0 457.1 304.6 455.4 307.2 454.6 309.0 453.6 312.4 453.4 314.4 453.2 314.8 453.2 322.0 453.4 322.4 453.4 323.6 453.6 324.0 453.6 325.0 453.8 325.4 453.8 326.2 454.2 327.6 454.2 328.2 454.6 329.8 455.4 332.0 456.5 334.0 457.4 335.0 458.4 335.9 460.4 337.0 461.2 337.2 462.4 337.2Z" fill="#1a1a1a"/>
<path d="M462.5 335.2 463.6 334.5 465.0 333.1 467.0 330.0 467.8 328.3 469.0 324.6 469.4 322.6 470.2 317.2 470.4 313.6 470.6 312.8 470.6 309.2 470.0 306.2 469.5 304.8 468.7 303.6 467.8 302.9 466.4 302.4 464.6 302.4 462.6 303.0 461.0 303.8 459.7 304.6 458.7 305.6 457.0 308.1 456.4 309.6 455.4 313.0 455.0 315.4 455.0 321.4 455.6 325.6 456.8 330.4 457.3 331.6 458.0 332.9 459.4 334.3 461.0 335.2 461.8 335.4 462.5 335.2Z M462.0 333.4 463.5 332.0 465.5 329.0 466.1 327.6 467.2 324.2 468.0 320.0 468.8 312.4 468.8 309.4 468.6 308.0 467.9 305.6 467.0 304.5 466.2 304.2 464.8 304.2 463.2 304.7 461.4 305.7 460.2 306.7 459.1 308.2 458.1 310.2 457.0 314.2 456.8 315.8 456.8 321.0 457.4 325.4 458.2 328.8 458.9 330.8 459.5 331.8 461.2 333.3 461.8 333.5 462.0 333.4Z M461.8 331.2 463.3 329.2 464.4 327.0 465.4 323.8 466.0 320.8 466.8 314.6 467.0 309.8 466.4 306.8 466.2 306.2 465.8 306.0 465.0 306.0 463.8 306.4 462.8 306.9 461.6 307.8 460.7 309.0 459.8 310.8 459.3 312.2 458.8 314.6 458.6 316.0 458.6 320.8 459.2 325.0 459.9 328.4 460.5 330.0 461.4 331.2 461.6 331.4 461.8 331.2Z M461.8 328.2 462.7 326.4 463.3 324.6 464.0 321.8 464.4 319.4 465.2 312.0 465.2 310.0 464.8 307.9 463.0 309.0 462.2 310.0 461.3 311.8 460.6 314.8 460.4 316.2 460.4 320.6 461.0 324.8 461.8 328.2Z M463.4 311.6 463.4 311.6 463.4 311.6Z M463.4 311.8 463.4 311.6 463.4 311.8Z M462.4 320.4 463.2 314.2 463.3 312.2 463.2 312.0 462.5 314.2 462.2 316.4 462.2 320.4 462.4 320.4Z " fill="none" stroke="#4a4a4a" stroke-width="0.45"/>
<ellipse cx="463.4" cy="318" rx="1" ry="8" transform="rotate(12 463.4 318)" fill="#777"/>
<path d="M449 372.5 C449 366.5 453 365.3 461 365.3 C469 365.3 472.7 366.5 472.7 372.5Z" fill="#000"/>
</g>
<text x="74.3" y="385" text-anchor="middle" font-family="'Liberation Sans', Arial, sans-serif" font-size="6.4" fill="#333">0</text>
<text x="88.5" y="385" text-anchor="middle" font-family="'Liberation Sans', Arial, sans-serif" font-size="6.4" fill="#333">10<tspan dy="-2.8" font-size="4.8">2</tspan></text>
<text x="123.2" y="385" text-anchor="middle" font-family="'Liberation Sans', Arial, sans-serif" font-size="6.4" fill="#333">10<tspan dy="-2.8" font-size="4.8">3</tspan></text>
<text x="157.1" y="385" text-anchor="middle" font-family="'Liberation Sans', Arial, sans-serif" font-size="6.4" fill="#333">10<tspan dy="-2.8" font-size="4.8">4</tspan></text>
<text x="189.0" y="385" text-anchor="middle" font-family="'Liberation Sans', Arial, sans-serif" font-size="6.4" fill="#333">10<tspan dy="-2.8" font-size="4.8">5</tspan></text>
<text x="217.9" y="385" text-anchor="middle" font-family="'Liberation Sans', Arial, sans-serif" font-size="6.4" fill="#333">0</text>
<text x="232.1" y="385" text-anchor="middle" font-family="'Liberation Sans', Arial, sans-serif" font-size="6.4" fill="#333">10<tspan dy="-2.8" font-size="4.8">2</tspan></text>
<text x="266.8" y="385" text-anchor="middle" font-family="'Liberation Sans', Arial, sans-serif" font-size="6.4" fill="#333">10<tspan dy="-2.8" font-size="4.8">3</tspan></text>
<text x="300.7" y="385" text-anchor="middle" font-family="'Liberation Sans', Arial, sans-serif" font-size="6.4" fill="#333">10<tspan dy="-2.8" font-size="4.8">4</tspan></text>
<text x="332.6" y="385" text-anchor="middle" font-family="'Liberation Sans', Arial, sans-serif" font-size="6.4" fill="#333">10<tspan dy="-2.8" font-size="4.8">5</tspan></text>
<text x="364.3" y="385" text-anchor="middle" font-family="'Liberation Sans', Arial, sans-serif" font-size="6.4" fill="#333">0</text>
<text x="378.5" y="385" text-anchor="middle" font-family="'Liberation Sans', Arial, sans-serif" font-size="6.4" fill="#333">10<tspan dy="-2.8" font-size="4.8">2</tspan></text>
<text x="413.2" y="385" text-anchor="middle" font-family="'Liberation Sans', Arial, sans-serif" font-size="6.4" fill="#333">10<tspan dy="-2.8" font-size="4.8">3</tspan></text>
<text x="447.1" y="385" text-anchor="middle" font-family="'Liberation Sans', Arial, sans-serif" font-size="6.4" fill="#333">10<tspan dy="-2.8" font-size="4.8">4</tspan></text>
<text x="479.0" y="385" text-anchor="middle" font-family="'Liberation Sans', Arial, sans-serif" font-size="6.4" fill="#333">10<tspan dy="-2.8" font-size="4.8">5</tspan></text>
<text x="53" y="247.9" text-anchor="end" font-family="'Liberation Sans', Arial, sans-serif" font-size="6.4" fill="#333">10<tspan dy="-2.8" font-size="4.8">5</tspan></text>
<text x="53" y="278.8" text-anchor="end" font-family="'Liberation Sans', Arial, sans-serif" font-size="6.4" fill="#333">10<tspan dy="-2.8" font-size="4.8">4</tspan></text>
<text x="53" y="310.8" text-anchor="end" font-family="'Liberation Sans', Arial, sans-serif" font-size="6.4" fill="#333">10<tspan dy="-2.8" font-size="4.8">3</tspan></text>
<text x="53" y="343.9" text-anchor="end" font-family="'Liberation Sans', Arial, sans-serif" font-size="6.4" fill="#333">10<tspan dy="-2.8" font-size="4.8">2</tspan></text>
<text x="53" y="359.3" text-anchor="end" font-family="'Liberation Sans', Arial, sans-serif" font-size="6.4" fill="#333">0</text>
<path d="M74.3 372.0v3.8" stroke="#111" stroke-width="1.8"/>
<path d="M217.9 372.0v3.8" stroke="#111" stroke-width="1.8"/>
<path d="M364.3 372.0v3.8" stroke="#111" stroke-width="1.8"/>
<path d="M58.8 357.3h-3.6" stroke="#111" stroke-width="1.8"/>
<path d="M74.3 372.0v3.6 M89.8 372.0v3.6 M124.5 372.0v3.6 M158.4 372.0v3.6 M190.3 372.0v3.6 M100.2 372.0v2 M106.4 372.0v2 M110.7 372.0v2 M114.1 372.0v2 M116.8 372.0v2 M119.1 372.0v2 M121.1 372.0v2 M122.9 372.0v2 M134.7 372.0v2 M140.7 372.0v2 M144.9 372.0v2 M148.2 372.0v2 M150.9 372.0v2 M153.1 372.0v2 M155.1 372.0v2 M156.8 372.0v2 M168.0 372.0v2 M173.6 372.0v2 M177.6 372.0v2 M180.7 372.0v2 M183.2 372.0v2 M185.4 372.0v2 M187.2 372.0v2 M188.8 372.0v2 M217.9 372.0v3.6 M233.4 372.0v3.6 M268.1 372.0v3.6 M302.0 372.0v3.6 M333.9 372.0v3.6 M243.8 372.0v2 M250.0 372.0v2 M254.3 372.0v2 M257.7 372.0v2 M260.4 372.0v2 M262.7 372.0v2 M264.7 372.0v2 M266.5 372.0v2 M278.3 372.0v2 M284.3 372.0v2 M288.5 372.0v2 M291.8 372.0v2 M294.5 372.0v2 M296.7 372.0v2 M298.7 372.0v2 M300.4 372.0v2 M311.6 372.0v2 M317.2 372.0v2 M321.2 372.0v2 M324.3 372.0v2 M326.8 372.0v2 M329.0 372.0v2 M330.8 372.0v2 M332.4 372.0v2 M364.3 372.0v3.6 M379.8 372.0v3.6 M414.5 372.0v3.6 M448.4 372.0v3.6 M480.3 372.0v3.6 M390.2 372.0v2 M396.4 372.0v2 M400.7 372.0v2 M404.1 372.0v2 M406.8 372.0v2 M409.1 372.0v2 M411.1 372.0v2 M412.9 372.0v2 M424.7 372.0v2 M430.7 372.0v2 M434.9 372.0v2 M438.2 372.0v2 M440.9 372.0v2 M443.1 372.0v2 M445.1 372.0v2 M446.8 372.0v2 M458.0 372.0v2 M463.6 372.0v2 M467.6 372.0v2 M470.7 372.0v2 M473.2 372.0v2 M475.4 372.0v2 M477.2 372.0v2 M478.8 372.0v2 M58.8 245.9h-3 M58.8 276.8h-3 M58.8 308.8h-3 M58.8 341.9h-3 M58.8 357.3h-3 M58.8 267.5h-1.8 M58.8 262.1h-1.8 M58.8 258.2h-1.8 M58.8 255.2h-1.8 M58.8 252.8h-1.8 M58.8 250.7h-1.8 M58.8 248.9h-1.8 M58.8 247.3h-1.8 M58.8 299.2h-1.8 M58.8 293.5h-1.8 M58.8 289.5h-1.8 M58.8 286.4h-1.8 M58.8 283.9h-1.8 M58.8 281.8h-1.8 M58.8 279.9h-1.8 M58.8 278.3h-1.8 M58.8 331.9h-1.8 M58.8 326.1h-1.8 M58.8 322.0h-1.8 M58.8 318.8h-1.8 M58.8 316.1h-1.8 M58.8 313.9h-1.8 M58.8 312.0h-1.8 M58.8 310.3h-1.8 M62.8 372.0v2 M67.3 372.0v2 M70.8 372.0v2 M77.8 372.0v2 M81.8 372.0v2 M85.8 372.0v2 M206.4 372.0v2 M210.9 372.0v2 M214.4 372.0v2 M221.4 372.0v2 M225.4 372.0v2 M229.4 372.0v2 M352.8 372.0v2 M357.3 372.0v2 M360.8 372.0v2 M367.8 372.0v2 M371.8 372.0v2 M375.8 372.0v2 M58.8 350.0h-2 M58.8 353.5h-2 M58.8 361.0h-2 M58.8 365.0h-2 M58.8 368.5h-2" stroke="#333" stroke-width="0.8" fill="none"/>
</svg>
</body></html>
